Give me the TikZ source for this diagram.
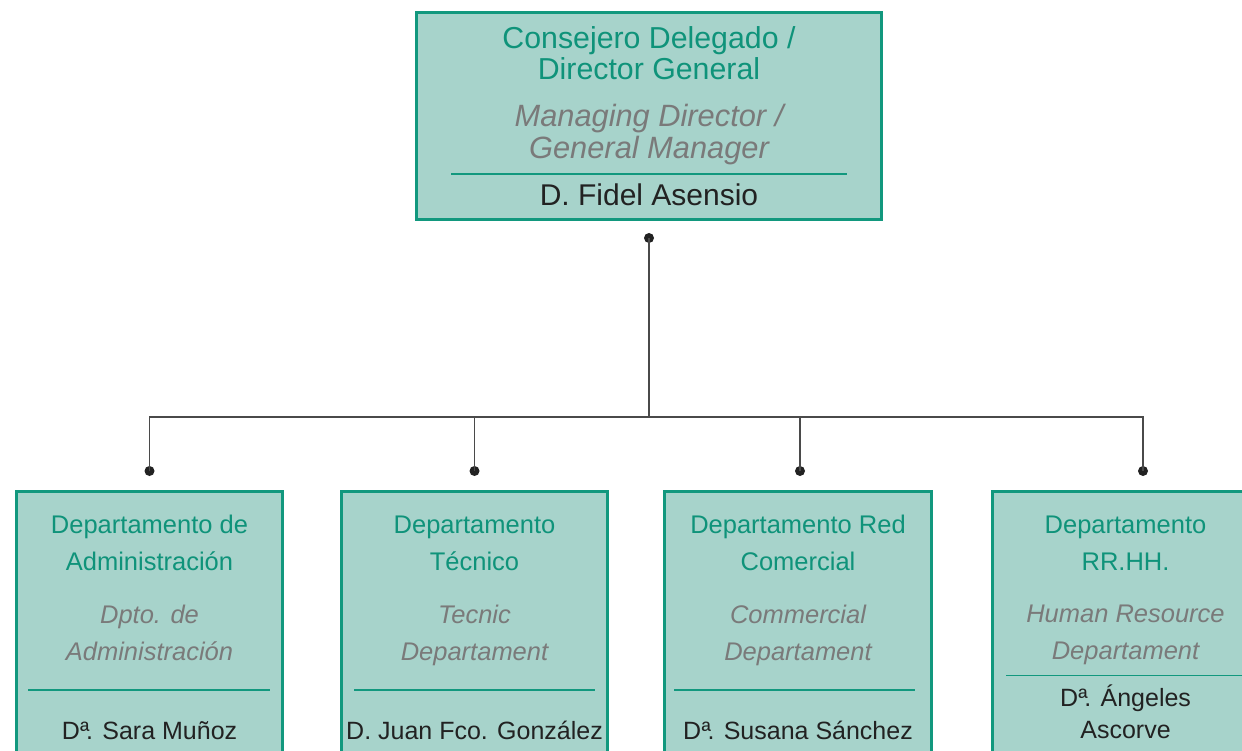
\documentclass[tikz,border=0pt]{standalone}
\usepackage{fontspec}
\setmainfont{Liberation Sans}
\definecolor{boxfill}{HTML}{A7D3CB}
\definecolor{boxline}{HTML}{12987E}
\definecolor{tealtext}{HTML}{0F937A}
\definecolor{graytext}{HTML}{7A7A7A}
\definecolor{nametext}{HTML}{222222}
\definecolor{connline}{HTML}{4A4A4A}
\newcommand{\DoA}{D\kern0.3ptª\kern-3.2pt.}
\begin{document}
\begin{tikzpicture}[x=1pt,y=-1pt,
  box/.style={draw=boxline,fill=boxfill,line width=3pt,inner sep=0pt,rectangle},
  lbl/.style={anchor=base,inner sep=0pt,outer sep=0pt},
  topteal/.style={lbl,text=tealtext,font=\fontsize{30.3}{36}\selectfont},
  topgray/.style={lbl,text=graytext,font=\fontsize{30.8}{36}\selectfont\itshape},
  topname/.style={lbl,text=nametext,font=\fontsize{30}{36}\selectfont},
  dteal/.style={lbl,text=tealtext,font=\fontsize{25.5}{30}\selectfont},
  dgray/.style={lbl,text=graytext,font=\fontsize{25.5}{30}\selectfont\itshape},
  dname/.style={lbl,text=nametext,font=\fontsize{25}{30}\selectfont},
  divider/.style={draw=boxline,line width=1.2pt},
  conn/.style={draw=connline,line width=1.3pt},
  dotmark/.style={circle,fill=nametext,inner sep=0pt,minimum size=10pt}]
\useasboundingbox (0,0) rectangle (1242,751);
\clip (0,0) rectangle (1242,751);
\fill[white] (0,0) rectangle (1242,751);

% top box
\node[box,minimum width=465.7pt,minimum height=206.7pt] (md) at (648.9,116) {};
\node[topteal] (md1) at (649,49) {Consejero Delegado /};
\node[topteal] (md2) at (649,80) {Director General};
\node[topgray] (md3) at (649,127) {Managing Director /};
\node[topgray] (md4) at (649,159) {General Manager};
\coordinate (mdl) at (451,174);
\coordinate (mdr) at (846.7,174);
\draw[divider] (mdl) -- (mdr);
\node[topname] (md5) at (649,205.5) {D. Fidel Asensio};

% bottom boxes
\node[box,minimum width=266pt,minimum height=280pt] (b1) at (149.5,631) {};
\node[box,minimum width=266pt,minimum height=280pt] (b2) at (474.5,631) {};
\node[box,minimum width=267pt,minimum height=280pt] (b3) at (798,631) {};
\node[box,minimum width=267pt,minimum height=280pt] (b4) at (1126,631) {};

% box 1
\node[dteal] (b1a) at (149.5,533) {Departamento de};
\node[dteal] (b1b) at (149.5,570) {Administración};
\node[dgray] (b1c) at (149.5,623) {Dpto. de};
\node[dgray] (b1d) at (149.5,660) {Administración};
\coordinate (b1l) at (28,690);
\coordinate (b1r) at (270,690);
\draw[divider] (b1l) -- (b1r);
\node[dname] (b1e) at (149.5,739) {\DoA{} Sara Muñoz};

% box 2
\node[dteal] (b2a) at (474.5,533) {Departamento};
\node[dteal] (b2b) at (474.5,570) {Técnico};
\node[dgray] (b2c) at (474.5,623) {Tecnic};
\node[dgray] (b2d) at (474.5,660) {Departament};
\coordinate (b2l) at (354,690);
\coordinate (b2r) at (595,690);
\draw[divider] (b2l) -- (b2r);
\node[dname] (b2e) at (474.5,739) {D. Juan Fco. González};

% box 3
\node[dteal] (b3a) at (798,533) {Departamento Red};
\node[dteal] (b3b) at (798,570) {Comercial};
\node[dgray] (b3c) at (798,623) {Commercial};
\node[dgray] (b3d) at (798,660) {Departament};
\coordinate (b3l) at (674,690);
\coordinate (b3r) at (915,690);
\draw[divider] (b3l) -- (b3r);
\node[dname] (b3e) at (798,739) {\DoA{} Susana Sánchez};

% box 4
\node[dteal] (b4a) at (1125.5,533) {Departamento};
\node[dteal] (b4b) at (1125.5,570) {RR.HH.};
\node[dgray] (b4c) at (1125.5,622) {Human Resource};
\node[dgray] (b4d) at (1125.5,659.5) {Departament};
\coordinate (b4l) at (1006,675.5);
\coordinate (b4r) at (1246,675.5);
\draw[divider] (b4l) -- (b4r);
\node[dname] (b4e) at (1125.5,706) {\DoA{} Ángeles};
\node[dname] (b4f) at (1125.5,738) {Ascorve};

% connectors
\node[dotmark] (t0) at (649,238) {};
\coordinate (hub) at (649,417);
\node[dotmark] (d1) at (149.5,471) {};
\node[dotmark] (d2) at (474.5,471) {};
\node[dotmark] (d3) at (800,471) {};
\node[dotmark] (d4) at (1143,471) {};
\draw[conn] (t0.center) -- (hub);
\draw[conn] (hub) -| (d1.center);
\draw[conn] (hub) -| (d2.center);
\draw[conn] (hub) -| (d3.center);
\draw[conn] (hub) -| (d4.center);
\end{tikzpicture}
\end{document}
